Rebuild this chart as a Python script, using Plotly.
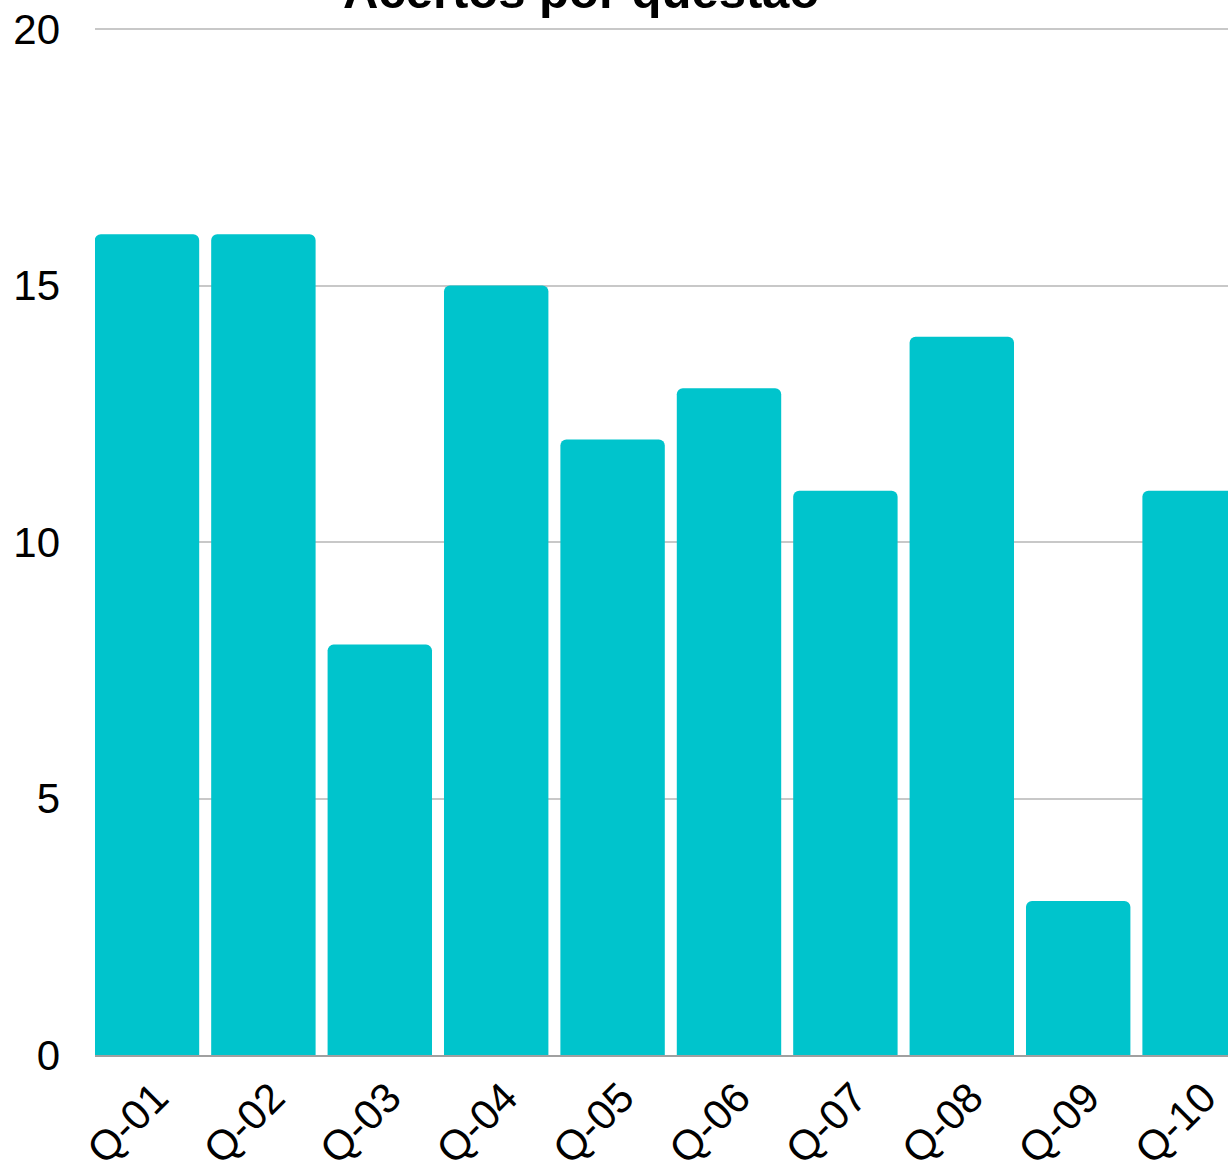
import plotly.graph_objects as go

categories = ["Q-01", "Q-02", "Q-03", "Q-04", "Q-05", "Q-06", "Q-07", "Q-08", "Q-09", "Q-10"]
acertos = [16, 16, 8, 15, 12, 13, 11, 14, 3, 11]
y_ticks = [0, 5, 10, 15, 20]
title_text = "Acertos por questão"

FONT = "Liberation Sans, Arial, sans-serif"

fig = go.Figure(
    go.Bar(
        x=categories,
        y=acertos,
        marker=dict(color="#00C4CC", line=dict(width=0)),
        hoverinfo="skip",
    )
)

fig.update_layout(
    width=1228,
    height=1170,
    margin=dict(l=95, r=0, t=27, b=115, autoexpand=False),
    paper_bgcolor="white",
    plot_bgcolor="white",
    bargap=0.103,
    barcornerradius=6,
    showlegend=False,
    font=dict(family=FONT, size=42, color="#000000"),
    xaxis=dict(
        range=[-0.4467, 9.287],
        automargin=False,
        tickangle=-45,
        showgrid=False,
        showline=True,
        linecolor="#a0a0a0",
        linewidth=2,
        ticks="",
        ticklabelshift=9,
        ticklabelstandoff=-1,
        tickfont=dict(family=FONT, size=42, color="#000000"),
    ),
    yaxis=dict(
        range=[0, 20.04],
        automargin=False,
        tickvals=y_ticks,
        showgrid=True,
        gridcolor="#c8c8c8",
        gridwidth=1.5,
        zeroline=False,
        showline=False,
        ticks="",
        ticklabelstandoff=34,
        tickfont=dict(family=FONT, size=42, color="#000000"),
    ),
    annotations=[
        dict(
            text="<b>" + title_text + "</b>",
            xref="paper",
            yref="paper",
            x=0.429,
            y=1.035,
            xanchor="center",
            yanchor="middle",
            showarrow=False,
            font=dict(family=FONT, size=49, color="#000000"),
        )
    ],
)

fig.write_html(
    "out.html",
    config={"displayModeBar": False},
    post_script="document.body.style.margin='0';document.body.style.overflow='hidden';",
)
